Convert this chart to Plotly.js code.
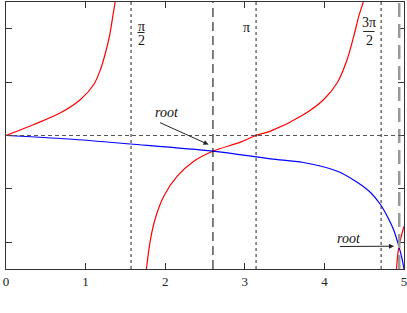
<!DOCTYPE html>
<html>
<head>
<meta charset="utf-8">
<script src="https://cdn.plot.ly/plotly-3.0.1.min.js"></script>
<style>html,body{margin:0;padding:0;background:#fff;}#chart{width:407px;height:313px;}</style>
</head>
<body>
<div id="chart"></div>
<script>
// ---- data ----
const redBranch1X = [0, 0.349, 0.685, 0.936, 1.103, 1.187, 1.250, 1.300, 1.342, 1.376, 1.40];
const redBranch1Y = [0, 0.206, 0.425, 0.674, 0.955, 1.236, 1.549, 1.860, 2.234, 2.547, 2.9];
const redBranch2X = [1.74, 1.765, 1.815, 1.878, 1.982, 2.151, 2.359, 2.598, 2.946, 3.138, 3.323, 3.741, 3.992, 4.161, 4.286, 4.369, 4.432, 4.495, 4.52];
const redBranch2Y = [-2.9, -2.491, -1.948, -1.541, -1.137, -0.762, -0.481, -0.294, -0.125, 0, 0.081, 0.393, 0.674, 0.987, 1.423, 1.860, 2.234, 2.547, 2.9];
const redBranch3X = [4.90, 4.906, 4.937, 5.0];
const redBranch3Y = [-2.8, -2.49, -2.073, -1.70];
const blueX = [0, 0.785, 1.564, 2.598, 3.323, 3.737, 4.164, 4.416, 4.579, 4.704, 4.789, 4.868, 4.935, 4.977, 5.0];
const blueY = [0, -0.066, -0.159, -0.294, -0.436, -0.506, -0.669, -0.880, -1.067, -1.292, -1.511, -1.760, -2.073, -2.322, -2.5];
const xTickVals = [0, 1, 2, 3, 4, 5];
const xTickText = ['0', '1', '2', '3', '4', '5'];
const dottedLines = [Math.PI / 2, Math.PI, 3 * Math.PI / 2];
const roots = [2.6, 4.94];
const rootPoints = [[2.544, -0.169], [4.874, -2.073]];   // arrow tips
const rootTails = [[1.916, 0.253], [4.177, -2.079]];     // arrow tails
const rootLabels = [[2.023, 0.431], [4.312, -1.929]];

const serif = 'Liberation Serif';

const redLine = {color: '#ff0000', width: 1.2, shape: 'spline', smoothing: 0.9};
const traces = [
  {x: redBranch1X, y: redBranch1Y, mode: 'lines', line: redLine, hoverinfo: 'skip'},
  {x: redBranch2X, y: redBranch2Y, mode: 'lines', line: redLine, hoverinfo: 'skip'},
  {x: redBranch3X, y: redBranch3Y, mode: 'lines', line: redLine, hoverinfo: 'skip'},
  {x: blueX, y: blueY, mode: 'lines', line: {color: '#0000ff', width: 1.2, shape: 'spline', smoothing: 0.9}, hoverinfo: 'skip'}
];

const shapes = [];
dottedLines.forEach(v => shapes.push({type: 'line', xref: 'x', yref: 'paper', x0: v, x1: v, y0: 0, y1: 1,
  line: {color: '#222', width: 1, dash: 'dot'}}));
shapes.push({type: 'line', xref: 'x', yref: 'paper', x0: roots[0], x1: roots[0], y0: 0, y1: 1,
  line: {color: '#000', width: 1, dash: '9px,5px'}});
shapes.push({type: 'line', xref: 'x', yref: 'paper', x0: roots[1], x1: roots[1], y0: 0, y1: 1,
  line: {color: '#9a9a9a', width: 2.5, dash: '14px,7px'}});
shapes.push({type: 'line', xref: 'x', yref: 'y', x0: 0, x1: 5, y0: 0, y1: 0,
  line: {color: '#555', width: 1, dash: '4px,3px'}});
// fraction bars
shapes.push({type: 'line', xref: 'x', yref: 'y', x0: 1.652, x1: 1.740, y0: 1.929, y1: 1.929, line: {color: '#222', width: 1}});
shapes.push({type: 'line', xref: 'x', yref: 'y', x0: 4.487, x1: 4.629, y0: 1.948, y1: 1.948, line: {color: '#222', width: 1}});

const labFont = {family: serif, size: 14, color: '#111'};
const annotations = [
  {x: 1.696, y: 2.05, text: 'π', showarrow: false, font: labFont, xanchor: 'center', yanchor: 'middle'},
  {x: 1.696, y: 1.77, text: '2', showarrow: false, font: labFont, xanchor: 'center', yanchor: 'middle'},
  {x: 3.025, y: 2.015, text: 'π', showarrow: false, font: labFont, xanchor: 'center', yanchor: 'middle'},
  {x: 4.558, y: 2.107, text: '3π', showarrow: false, font: labFont, xanchor: 'center', yanchor: 'middle'},
  {x: 4.567, y: 1.779, text: '2', showarrow: false, font: labFont, xanchor: 'center', yanchor: 'middle'}
];
rootLabels.forEach(p => annotations.push({x: p[0], y: p[1], text: '<i>root</i>', showarrow: false,
  font: labFont, xanchor: 'center', yanchor: 'middle'}));
rootPoints.forEach((p, i) => annotations.push({x: p[0], y: p[1], ax: rootTails[i][0], ay: rootTails[i][1],
  axref: 'x', ayref: 'y', text: '', showarrow: true, arrowhead: 2, arrowsize: 1, arrowwidth: 1,
  arrowcolor: '#222', standoff: 0, startstandoff: 0}));

const layout = {
  width: 407, height: 313,
  margin: {l: 6, r: 3, t: 2, b: 44, pad: 0},
  paper_bgcolor: '#fff', plot_bgcolor: '#fff',
  showlegend: false,
  font: {family: serif},
  xaxis: {range: [0, 5], tickvals: xTickVals, ticktext: xTickText, ticks: 'inside', ticklen: 6,
    tickcolor: '#333', showline: true, linecolor: '#333', linewidth: 1, mirror: 'ticks',
    ticklabeloverflow: 'allow',
    showgrid: false, zeroline: false, tickfont: {family: serif, size: 13, color: '#222'}},
  yaxis: {range: [-2.5, 2.5], dtick: 1, tick0: 0, ticks: 'inside', ticklen: 6, tickcolor: '#333',
    showline: true, linecolor: '#333', linewidth: 1, mirror: 'ticks', showgrid: false,
    zeroline: false, showticklabels: false},
  shapes: shapes,
  annotations: annotations
};

Plotly.newPlot('chart', traces, layout, {staticPlot: true, displayModeBar: false});
</script>
</body>
</html>
